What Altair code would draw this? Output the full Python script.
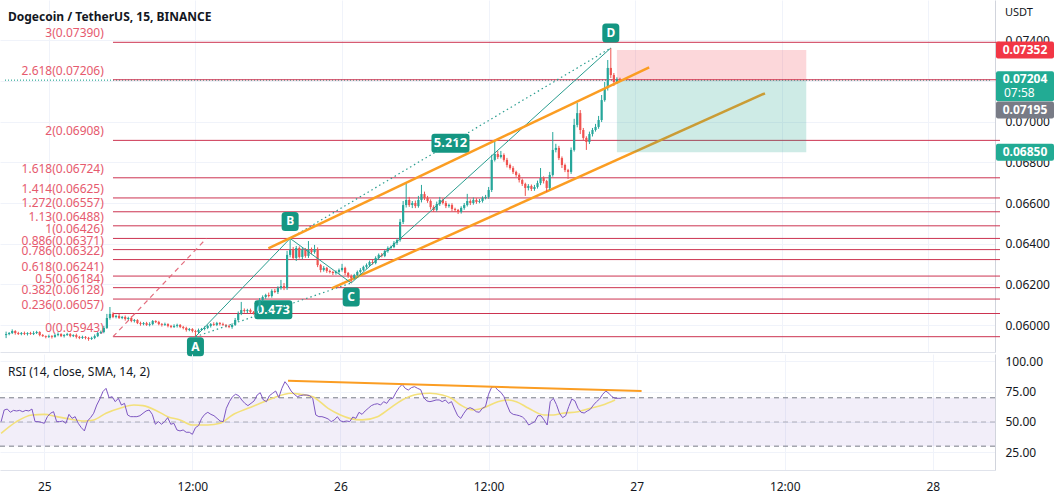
import altair as alt
import pandas as pd

FONT = "Noto Sans"
# visible ranges (hours since 25th 00:00 / price / RSI)
XMIN, XMAX = -3.59, 77.04
PMIN, PMAX = 0.058678, 0.075979
RMIN, RMAX = 10.3, 106.2
W, HP, HR = 995, 352, 116

T0, STEP = -3.5, 0.25          # first candle time (h), 15-minute candles
FIRST_OPEN = 5951              # prices in 1e-5 USDT

close = [
    5956, 5961, 5971, 5961, 5956, 5961, 5956, 5961, 5956, 5961,
    5966, 5951, 5946, 5942, 5946, 5942, 5951, 5956, 5946, 5951,
    5956, 5946, 5951, 5942, 5937, 5942, 5937, 5932, 5937, 5946,
    5961, 5966, 5986, 6035, 6055, 6040, 6045, 6035, 6040, 6030,
    6035, 6020, 6025, 6010, 6005, 6010, 6001, 6005, 6020, 6015,
    6005, 6001, 6005, 5996, 5991, 5996, 6001, 5991, 5986, 5976,
    5981, 5971, 5966, 5976, 5981, 5986, 5996, 6005, 6001, 6010,
    6005, 6001, 5996, 5991, 6001, 6025, 6055, 6074, 6069, 6074,
    6064, 6060, 6069, 6123, 6138, 6148, 6143, 6168, 6163, 6182,
    6192, 6182, 6345, 6369, 6330, 6379, 6335, 6369, 6340, 6369,
    6359, 6374, 6295, 6271, 6281, 6266, 6261, 6256, 6261, 6271,
    6281, 6256, 6241, 6232, 6246, 6261, 6271, 6286, 6295, 6310,
    6305, 6330, 6345, 6340, 6364, 6379, 6384, 6404, 6418, 6507,
    6590, 6615, 6590, 6600, 6585, 6615, 6644, 6625, 6610, 6580,
    6566, 6595, 6615, 6600, 6585, 6590, 6571, 6566, 6556, 6576,
    6590, 6610, 6600, 6615, 6605, 6610, 6625, 6630, 6664, 6812,
    6841, 6826, 6836, 6812, 6787, 6772, 6753, 6738, 6713, 6694,
    6674, 6684, 6669, 6679, 6698, 6723, 6708, 6674, 6738, 6861,
    6871, 6821, 6787, 6762, 6753, 6861, 6984, 7042, 6959, 6920,
    6900, 6939, 6959, 6974, 7008, 7106, 7165, 7264, 7229, 7195,
    7210, 7204,
]
upper_wick = [
    12, 5, 8, 4, 6, 5, 7, 4, 6, 9,
    6, 4, 5, 3, 7, 5, 6, 8, 4, 5,
    6, 5, 4, 7, 5, 6, 4, 5, 6, 8,
    5, 7, 10, 20, 34, 8, 6, 10, 5, 7,
    6, 8, 5, 4, 7, 5, 6, 9, 5, 4,
    6, 5, 7, 4, 5, 8, 6, 4, 5, 6,
    5, 4, 6, 7, 5, 8, 6, 5, 9, 6,
    5, 7, 4, 6, 8, 10, 12, 40, 8, 6,
    7, 5, 9, 10, 8, 6, 12, 8, 10, 9,
    30, 15, 20, 57, 15, 10, 8, 12, 10, 44,
    12, 20, 8, 6, 9, 5, 7, 6, 8, 7,
    20, 6, 5, 8, 6, 7, 9, 6, 8, 7,
    10, 8, 7, 9, 6, 8, 7, 9, 10, 15,
    20, 88, 15, 10, 12, 20, 45, 12, 10, 8,
    9, 12, 15, 8, 10, 7, 9, 6, 5, 8,
    10, 35, 8, 12, 9, 10, 8, 10, 15, 25,
    69, 15, 20, 8, 10, 7, 9, 6, 8, 7,
    6, 9, 7, 10, 12, 49, 8, 6, 15, 88,
    20, 10, 8, 7, 6, 12, 30, 50, 15, 10,
    8, 12, 10, 15, 20, 25, 30, 39, 98, 10,
    8, 6,
]
lower_wick = [
    15, 6, 5, 8, 4, 6, 5, 7, 4, 5,
    5, 6, 4, 7, 5, 8, 4, 6, 5, 7,
    4, 6, 5, 8, 6, 5, 7, 9, 5, 6,
    5, 4, 6, 5, 8, 6, 7, 5, 6, 8,
    5, 6, 7, 5, 8, 6, 5, 7, 6, 5,
    6, 8, 5, 7, 6, 5, 8, 6, 7, 8,
    6, 7, 23, 6, 5, 7, 6, 8, 5, 6,
    7, 5, 8, 6, 9, 5, 7, 6, 8, 10,
    6, 8, 7, 10, 8, 9, 7, 8, 6, 10,
    8, 10, 9, 12, 10, 15, 8, 12, 9, 10,
    11, 8, 10, 12, 8, 9, 7, 10, 8, 9,
    8, 10, 9, 25, 7, 6, 8, 5, 9, 7,
    8, 6, 9, 7, 6, 8, 9, 6, 10, 8,
    10, 12, 9, 15, 10, 8, 12, 10, 9, 12,
    10, 8, 9, 7, 10, 8, 12, 10, 10, 8,
    9, 7, 10, 8, 9, 6, 8, 7, 9, 10,
    8, 10, 7, 9, 12, 8, 10, 9, 12, 10,
    39, 12, 10, 9, 8, 10, 12, 20, 10, 8,
    12, 10, 15, 10, 35, 10, 8, 12, 20, 10,
    39, 10, 12, 8, 9, 10, 8, 12, 15, 20,
    10, 8,
]
rsi = [
    50.3, 59.9, 60.7, 58.0, 59.6, 59.1, 59.6, 58.5, 59.6, 59.1,
    60.7, 50.3, 50.3, 49.7, 48.9, 54.4, 57.2, 58.5, 50.3, 50.3,
    50.8, 48.9, 56.3, 53.0, 54.4, 48.9, 45.3, 42.6, 50.8, 53.6,
    57.2, 64.0, 69.0, 75.1, 77.8, 70.1, 70.9, 66.8, 69.6, 64.0,
    65.4, 55.8, 54.4, 54.4, 54.4, 55.2, 57.2, 59.1, 59.9, 56.3,
    48.1, 50.3, 48.1, 50.3, 53.6, 48.1, 48.9, 43.4, 42.6, 43.4,
    41.5, 41.5, 39.8, 45.3, 47.0, 53.0, 56.3, 58.0, 56.3, 55.2,
    53.0, 50.8, 50.3, 61.3, 66.8, 70.9, 72.9, 71.8, 68.2, 65.4,
    63.5, 65.4, 67.4, 72.3, 74.2, 68.2, 66.8, 71.8, 73.7, 75.6,
    70.1, 77.8, 83.3, 80.0, 75.6, 72.9, 70.9, 71.8, 72.3, 72.3,
    71.8, 69.6, 55.8, 54.4, 54.4, 53.6, 52.5, 50.3, 51.7, 54.4,
    50.8, 50.3, 50.8, 50.3, 54.1, 53.0, 58.0, 56.3, 59.1, 61.3,
    63.5, 64.6, 65.1, 64.0, 66.8, 65.4, 69.0, 69.6, 74.5, 78.4,
    81.1, 77.8, 76.4, 78.4, 79.2, 77.8, 76.7, 70.1, 67.4, 66.8,
    67.4, 68.2, 68.2, 66.8, 68.2, 65.4, 66.8, 60.7, 55.2, 53.0,
    57.2, 60.7, 61.8, 60.7, 58.5, 58.0, 61.3, 62.7, 72.9, 78.7,
    79.2, 76.4, 74.5, 70.9, 64.0, 58.0, 56.3, 55.8, 55.2, 54.1,
    51.7, 47.5, 48.9, 50.3, 55.2, 55.2, 51.7, 47.5, 66.8, 69.6,
    64.4, 57.2, 53.6, 55.2, 62.7, 69.0, 67.4, 61.3, 58.0, 57.4,
    59.1, 60.5, 64.0, 66.8, 69.0, 72.9, 75.6, 73.7, 70.9, 69.6,
    69.6, 69.6,
]
sma_idx = [0, 5, 10, 14, 18, 21, 27, 30, 34, 39, 43, 46, 51, 54, 58, 62, 67, 71, 75, 80,
           84, 88, 94, 97, 101, 106, 110, 113, 117, 122, 126, 130, 135, 139, 143, 146, 149,
           153, 156, 161, 164, 167, 171, 176, 179, 182, 187, 191, 195, 199]
sma_val = [40.6, 50.3, 55.8, 56.3, 54.4, 53.0, 50.8, 51.7, 57.2, 61.8, 64.0, 63.5, 58.5, 54.4,
           51.7, 47.5, 47.5, 48.9, 55.8, 61.3, 65.4, 69.6, 73.7, 72.9, 70.9, 61.3, 55.8, 53.0,
           51.7, 54.4, 61.3, 68.2, 72.9, 73.7, 72.3, 69.6, 64.0, 59.9, 61.3, 66.8, 68.2, 66.8,
           61.3, 55.8, 55.8, 57.2, 58.5, 61.3, 64.0, 68.2]

fib_ratio = ["0", "0.236", "0.382", "0.5", "0.618", "0.786", "0.886", "1", "1.13",
             "1.272", "1.414", "1.618", "2", "2.618", "3"]
fib_price = [0.05943, 0.06057, 0.06128, 0.06184, 0.06241, 0.06322, 0.06371, 0.06426,
             0.06488, 0.06557, 0.06625, 0.06724, 0.06908, 0.07206, 0.07390]
FIB_START, FIB_LABEL_T = 5.25, 4.5

pat_name = ["A", "B", "C", "D"]
pat_t = [12.0, 19.75, 24.75, 46.0]
pat_p = [0.05943, 0.06426, 0.06207, 0.07362]
pat_off = [10, -17, 14, -15]

chan_upper_t, chan_upper_p = [17.97, 49.14], [0.063775, 0.072671]
chan_lower_t, chan_lower_p = [23.15, 58.62], [0.061809, 0.071393]
fib_trend_t, fib_trend_p = [5.25, 12.9], [0.05943, 0.06426]

pos_t = [46.5, 62.0]
pos_stop, pos_entry, pos_target = 0.07352, 0.07204, 0.06850
last_price = 0.07204

tag_price = [0.07352, 0.07204, 0.07195, 0.06850]
tag_text = ["0.07352", "0.07204", "0.07195", "0.06850"]
tag_color = ["#f23645", "#22ab94", "#787b86", "#22ab94"]

rsi_trend_t, rsi_trend_v = [19.75, 48.4], [84.0, 75.6]

tick_vals = [0, 12, 24, 36, 48, 60, 72]
tick_txt = ["25", "12:00", "26", "12:00", "27", "12:00", "28"]
price_ticks = [0.060, 0.062, 0.064, 0.066, 0.068, 0.070, 0.072, 0.074]
rsi_ticks = [25, 50, 75, 100]

GRID = "#f0f3fa"
AXC = "#131722"
UP, DOWN = "#26a69a", "#ef5350"
FIB_LINE, FIB_TXT = "#cc3350", "#e65a6e"
ORANGE = "#fb9d22"
PAT = "#2a9d8f"
LBL = "#149682"

# ---------------- data frames ----------------
n = min(len(close), len(upper_wick), len(lower_wick))
rows, prev = [], FIRST_OPEN
for i in range(n):
    o, c = prev, close[i]
    rows.append(dict(t=T0 + STEP * i, o=o / 1e5, c=c / 1e5,
                     h=(max(o, c) + upper_wick[i]) / 1e5,
                     l=(min(o, c) - lower_wick[i]) / 1e5,
                     d="up" if c >= o else "down"))
    prev = c
candles = pd.DataFrame(rows)

rsi_df = pd.DataFrame({"t": [T0 + STEP * i for i in range(len(rsi))], "v": rsi})
sma_df = pd.DataFrame({"t": [T0 + STEP * i for i in sma_idx], "v": sma_val})
fib_df = pd.DataFrame({"p": fib_price, "t": FIB_START, "lt": FIB_LABEL_T,
                       "lab": [f"{r}({p:.5f})" for r, p in zip(fib_ratio, fib_price)]})

xs = alt.Scale(domain=[XMIN, XMAX], nice=False, zero=False)
ps = alt.Scale(domain=[PMIN, PMAX], nice=False, zero=False)
rs = alt.Scale(domain=[RMIN, RMAX], nice=False, zero=False)

label_expr = "".join(f"datum.value == {v} ? '{s}' : " for v, s in zip(tick_vals, tick_txt)) + "''"

x_axis_top = alt.Axis(values=tick_vals, labels=False, ticks=False, domain=True,
                      domainColor="#e0e3eb", grid=True, gridColor=GRID, title=None)
x_axis_bottom = alt.Axis(values=tick_vals, labelExpr=label_expr, ticks=False, domain=True,
                         domainColor="#e0e3eb", grid=True, gridColor=GRID, title=None,
                         labelFont=FONT, labelFontSize=12, labelColor=AXC, labelPadding=11)
p_axis = alt.Axis(orient="right", values=price_ticks, format=".5f", ticks=False,
                  labelPadding=10, labelFont=FONT, labelFontSize=12, labelColor=AXC,
                  domainColor="#d1d4dc", grid=True, gridColor=GRID, title=None)
r_axis = alt.Axis(orient="right", values=rsi_ticks, format=".2f", ticks=False,
                  labelPadding=10, labelFont=FONT, labelFontSize=12, labelColor=AXC,
                  domainColor="#d1d4dc", grid=True, gridColor=GRID, title=None)


def X(f="t"):
    return alt.X(f"{f}:Q", scale=xs, axis=x_axis_top)


def P(f):
    return alt.Y(f"{f}:Q", scale=ps, axis=p_axis)


def XR(f="t"):
    return alt.X(f"{f}:Q", scale=xs, axis=x_axis_bottom)


def R(f):
    return alt.Y(f"{f}:Q", scale=rs, axis=r_axis)


def rr_path(w, h, r):
    a, q = h / w, 2 * r / w
    f = lambda v: f"{v:.3f}"
    return (f"M{f(-1+q)},{f(-a)}L{f(1-q)},{f(-a)}Q1,{f(-a)} 1,{f(-a+q)}L1,{f(a-q)}"
            f"Q1,{f(a)} {f(1-q)},{f(a)}L{f(-1+q)},{f(a)}Q-1,{f(a)} -1,{f(a-q)}"
            f"L-1,{f(-a+q)}Q-1,{f(-a)} {f(-1+q)},{f(-a)}Z")


# ---------------- price pane ----------------
price_line = alt.Chart(pd.DataFrame({"t": [XMIN, XMAX], "p": [last_price, last_price]})).mark_line(
    color="#089981", strokeWidth=1, strokeDash=[1, 2], clip=True).encode(x=X(), y=P("p"))

fib_lines = alt.Chart(fib_df).mark_rule(color=FIB_LINE, strokeWidth=1).encode(
    x=X(), x2=alt.value(W + 5), y=P("p"))
fib_labels = alt.Chart(fib_df).mark_text(align="right", baseline="alphabetic", dy=-5,
                                         font=FONT, fontSize=12, color=FIB_TXT).encode(
    x=X("lt"), y=P("p"), text="lab:N")

fib_trend = alt.Chart(pd.DataFrame({"t": fib_trend_t, "p": fib_trend_p})).mark_line(
    color="#e36d7e", strokeWidth=1.2, strokeDash=[5, 4]).encode(x=X(), y=P("p"))

chan_up = alt.Chart(pd.DataFrame({"t": chan_upper_t, "p": chan_upper_p})).mark_line(
    color=ORANGE, strokeWidth=2.5).encode(x=X(), y=P("p"))
chan_lo = alt.Chart(pd.DataFrame({"t": chan_lower_t, "p": chan_lower_p})).mark_line(
    color=ORANGE, strokeWidth=2.5).encode(x=X(), y=P("p"))

ratio_df = pd.DataFrame({
    "t": [(pat_t[0] + pat_t[2]) / 2, (pat_t[1] + pat_t[3]) / 2],
    "p": [(pat_p[0] + pat_p[2]) / 2, (pat_p[1] + pat_p[3]) / 2],
    "s": ["0.473", "5.212"]})
ratio_box = alt.Chart(ratio_df).mark_point(shape=rr_path(38, 19, 3), size=38 * 38, filled=True,
                                           color=LBL, opacity=1, strokeWidth=0).encode(x=X(), y=P("p"))
ratio_txt = alt.Chart(ratio_df).mark_text(font=FONT, fontSize=13, fontWeight="bold",
                                          color="white", baseline="middle").encode(
    x=X(), y=P("p"), text="s:N")

pat_df = pd.DataFrame({"t": pat_t, "p": pat_p, "k": pat_name, "o": range(4)})
pat_solid = alt.Chart(pat_df).mark_line(color=PAT, strokeWidth=1).encode(
    x=X(), y=P("p"), order="o:Q")
dot_df = pd.DataFrame({"t": [pat_t[0], pat_t[2], pat_t[1], pat_t[3]],
                       "p": [pat_p[0], pat_p[2], pat_p[1], pat_p[3]],
                       "g": ["AC", "AC", "BD", "BD"]})
pat_dotted = alt.Chart(dot_df).mark_line(color=PAT, strokeWidth=1.2, strokeDash=[1.5, 3]).encode(
    x=X(), y=P("p"), detail="g:N")

up_c = candles[candles.d == "up"]
dn_c = candles[candles.d == "down"]
wicks_up = alt.Chart(up_c).mark_rule(strokeWidth=1, color=UP, clip=True).encode(x=X(), y=P("l"), y2="h:Q")
wicks_dn = alt.Chart(dn_c).mark_rule(strokeWidth=1, color=DOWN, clip=True).encode(x=X(), y=P("l"), y2="h:Q")
bodies_up = alt.Chart(up_c).mark_bar(size=2.2, color=UP, clip=True).encode(x=X(), y=P("o"), y2="c:Q")
bodies_dn = alt.Chart(dn_c).mark_bar(size=2.2, color=DOWN, clip=True).encode(x=X(), y=P("o"), y2="c:Q")

stop_box = alt.Chart(pd.DataFrame({"t": [pos_t[0]], "t2": [pos_t[1]], "a": [pos_entry],
                                   "b": [pos_stop]})).mark_rect(color="#f23645", opacity=0.2).encode(
    x=X(), x2="t2:Q", y=P("a"), y2="b:Q")
target_box = alt.Chart(pd.DataFrame({"t": [pos_t[0]], "t2": [pos_t[1]], "a": [pos_target],
                                     "b": [pos_entry]})).mark_rect(color="#089981", opacity=0.2).encode(
    x=X(), x2="t2:Q", y=P("a"), y2="b:Q")

pat_layers = []
for i in range(4):
    d = pat_df.iloc[[i]]
    pat_layers.append(alt.Chart(d).mark_point(shape=rr_path(17, 19, 3.5), size=17 * 17, filled=True,
                                              color=LBL, opacity=1, strokeWidth=0,
                                              yOffset=pat_off[i]).encode(x=X(), y=P("p")))
    pat_layers.append(alt.Chart(d).mark_text(font=FONT, fontSize=12, fontWeight="bold", color="white",
                                             baseline="middle", yOffset=pat_off[i]).encode(
        x=X(), y=P("p"), text="k:N"))

# price tags on the right axis (rounded boxes drawn as symbols so bounds stay exact)
TAG_W = 58
tag_layers = []
tag_off = [0, 6, 28, 0]
tag_h = [17, 30, 17, 17]
for i in range(4):
    d = pd.DataFrame({"p": [tag_price[i]], "s": [tag_text[i]]})
    tag_layers.append(alt.Chart(d).mark_point(shape=rr_path(TAG_W, tag_h[i], 2), size=TAG_W * TAG_W,
                                              filled=True, color=tag_color[i], opacity=1, strokeWidth=0,
                                              yOffset=tag_off[i]).encode(
        x=alt.value(W + 1 + TAG_W / 2), y=P("p")))
    tag_layers.append(alt.Chart(d).mark_text(font=FONT, fontSize=12, fontWeight="bold",
                                             color="white", baseline="middle",
                                             yOffset=(tag_off[i] if i != 1 else -1)).encode(
        x=alt.value(W + 30), y=P("p"), text="s:N"))
tag_layers.append(alt.Chart(pd.DataFrame({"p": [tag_price[1]], "s": ["07:58"]})).mark_text(
    font=FONT, fontSize=12, color="white", baseline="middle", align="left", yOffset=13).encode(
    x=alt.value(W + 9), y=P("p"), text="s:N"))

title = alt.Chart(pd.DataFrame({"s": ["Dogecoin / TetherUS, 15, BINANCE"]})).mark_text(
    align="left", baseline="middle", font=FONT, fontSize=12, fontWeight="bold", color=AXC).encode(
    x=alt.value(8), y=alt.value(17), text="s:N")
usdt = alt.Chart(pd.DataFrame({"s": ["USDT"]})).mark_text(
    align="left", baseline="middle", font=FONT, fontSize=11, color=AXC).encode(
    x=alt.value(W + 10), y=alt.value(13), text="s:N")

price = alt.layer(
    price_line, fib_lines, fib_labels, fib_trend, chan_lo, ratio_box, ratio_txt,
    wicks_up, wicks_dn, bodies_up, bodies_dn, pat_solid, pat_dotted, stop_box, target_box, chan_up,
    *pat_layers, *tag_layers, title, usdt
).properties(width=W, height=HP)

# ---------------- RSI pane ----------------
band = alt.Chart(pd.DataFrame({"t": [XMIN], "t2": [XMAX], "a": [30], "b": [70]})).mark_rect(
    color="#7e57c2", opacity=0.1, clip=True).encode(x=XR(), x2="t2:Q", y=R("a"), y2="b:Q")
lvl_df = pd.DataFrame({"t": [XMIN] * 3, "t2": [XMAX] * 3, "v": [70, 50, 30], "op": [1.0, 0.55, 1.0]})
levels = alt.Chart(lvl_df).mark_rule(color="#787b86", strokeWidth=1, strokeDash=[5, 4], clip=True).encode(
    x=XR(), x2="t2:Q", y=R("v"), opacity=alt.Opacity("op:Q", scale=None, legend=None))
sma_line = alt.Chart(sma_df).mark_line(color="#f3e07a", strokeWidth=1.6, interpolate="monotone",
                                       clip=True).encode(x=XR(), y=R("v"))
rsi_line = alt.Chart(rsi_df).mark_line(color="#7e57c2", strokeWidth=1, clip=True).encode(x=XR(), y=R("v"))
rsi_trend = alt.Chart(pd.DataFrame({"t": rsi_trend_t, "v": rsi_trend_v})).mark_line(
    color=ORANGE, strokeWidth=2).encode(x=XR(), y=R("v"))
rsi_title = alt.Chart(pd.DataFrame({"s": ["RSI (14, close, SMA, 14, 2)"]})).mark_text(
    align="left", baseline="middle", font=FONT, fontSize=12, color=AXC).encode(
    x=alt.value(8), y=alt.value(18), text="s:N")

rsi_pane = alt.layer(band, levels, sma_line, rsi_line, rsi_trend, rsi_title).properties(
    width=W, height=HR)

chart = alt.vconcat(price, rsi_pane, spacing=2, bounds="flush").properties(
    padding=0, background="white"
).configure_view(strokeWidth=0)

chart.save("out.html", embed_options={"renderer": "svg", "actions": False})
